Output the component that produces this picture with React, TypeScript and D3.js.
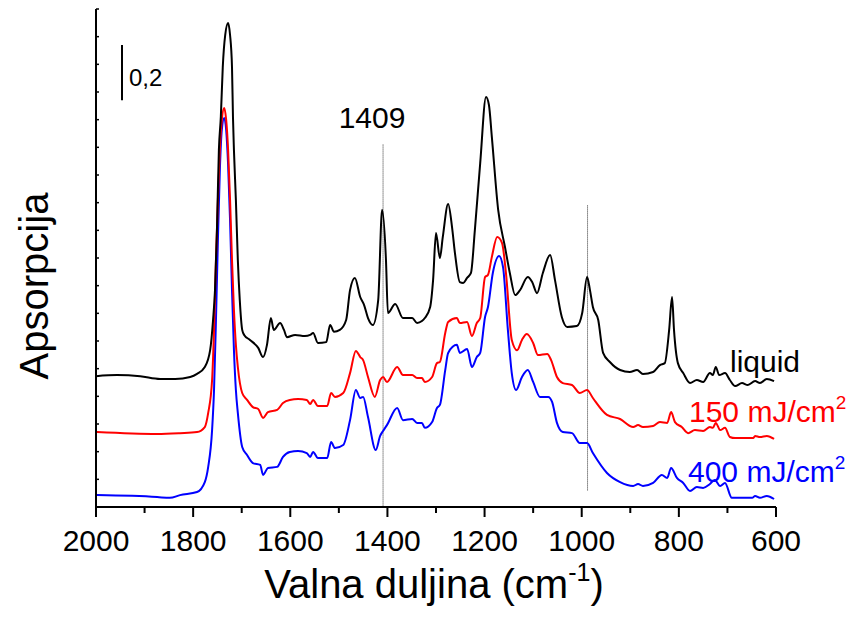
import React from "react";
import * as d3 from "d3";

// wavenumber (cm-1), absorbance
const liquidWn = [2000,1957,1909,1868,1837,1806,1792,1776,1765,1759,1755,1751,1747,1743,1739,1734,1728,1724,1720,1718,1716,1712,1708,1704,1699,1695,1683,1666,1656,1648,1640,1634,1621,1613,1607,1590,1570,1559,1553,1543,1526,1518,1510,1498,1485,1477,1467,1456,1448,1440,1430,1419,1411,1403,1399,1384,1368,1349,1339,1329,1323,1312,1306,1300,1292,1286,1275,1267,1261,1251,1244,1236,1228,1220,1209,1197,1191,1185,1172,1158,1148,1137,1127,1111,1102,1092,1080,1065,1055,1041,1030,1010,999,989,983,977,966,956,942,921,901,886,874,853,839,829,820,814,810,802,791,777,763,750,736,730,724,717,705,695,684,670,658,643,633,619,604];
const liquidA = [0.473,0.477,0.473,0.463,0.463,0.470,0.481,0.506,0.567,0.676,0.784,1.001,1.290,1.410,1.590,1.706,1.749,1.706,1.590,1.410,1.290,1.110,0.893,0.748,0.640,0.622,0.604,0.575,0.542,0.586,0.683,0.640,0.665,0.640,0.614,0.622,0.618,0.622,0.629,0.593,0.596,0.658,0.633,0.640,0.676,0.784,0.828,0.759,0.730,0.683,0.658,0.748,1.074,0.893,0.701,0.734,0.683,0.683,0.665,0.672,0.683,0.723,0.820,0.990,0.900,0.976,1.095,1.012,0.918,0.813,0.810,0.828,0.846,1.001,1.243,1.482,1.453,1.337,1.074,0.940,0.846,0.766,0.784,0.831,0.813,0.773,0.846,0.911,0.820,0.687,0.651,0.654,0.701,0.831,0.784,0.723,0.676,0.557,0.524,0.495,0.488,0.495,0.481,0.488,0.513,0.520,0.640,0.759,0.640,0.520,0.484,0.448,0.459,0.452,0.484,0.477,0.506,0.477,0.484,0.459,0.437,0.448,0.441,0.455,0.448,0.463,0.455];

const mj150Wn = [1998,1874,1827,1792,1776,1769,1761,1757,1753,1749,1745,1741,1736,1732,1728,1724,1720,1716,1712,1708,1699,1689,1677,1666,1656,1646,1627,1615,1601,1584,1566,1559,1553,1543,1524,1516,1508,1491,1477,1465,1456,1450,1440,1426,1415,1409,1401,1380,1368,1349,1339,1329,1323,1308,1298,1292,1281,1275,1257,1251,1236,1226,1216,1209,1199,1193,1185,1174,1164,1156,1144,1133,1123,1113,1100,1090,1071,1063,1051,1039,1020,1004,989,977,948,921,894,884,874,853,839,824,816,808,794,781,767,750,736,730,724,715,705,695,684,647,643,633,619,604];
const mj150A = [0.271,0.264,0.267,0.271,0.289,0.340,0.459,0.640,0.893,1.110,1.290,1.399,1.442,1.399,1.290,1.110,0.893,0.712,0.586,0.506,0.412,0.387,0.361,0.354,0.322,0.343,0.351,0.376,0.387,0.390,0.387,0.372,0.387,0.365,0.365,0.412,0.398,0.412,0.484,0.564,0.542,0.531,0.470,0.398,0.459,0.470,0.452,0.506,0.477,0.477,0.466,0.466,0.452,0.470,0.520,0.524,0.629,0.669,0.683,0.665,0.669,0.618,0.665,0.683,0.831,0.839,0.904,0.976,0.954,0.846,0.604,0.567,0.604,0.625,0.593,0.549,0.553,0.531,0.470,0.448,0.441,0.412,0.423,0.394,0.333,0.318,0.289,0.296,0.289,0.293,0.307,0.304,0.343,0.307,0.289,0.267,0.278,0.275,0.289,0.286,0.304,0.278,0.286,0.253,0.249,0.249,0.257,0.253,0.257,0.246];

const mj400Wn = [1998,1874,1848,1827,1792,1776,1769,1761,1757,1753,1749,1745,1741,1736,1732,1728,1724,1720,1716,1712,1708,1699,1689,1677,1662,1656,1646,1627,1615,1601,1584,1566,1559,1553,1543,1524,1516,1508,1491,1477,1465,1456,1450,1440,1424,1415,1409,1401,1380,1368,1349,1339,1329,1323,1308,1298,1292,1281,1275,1257,1251,1236,1226,1216,1209,1199,1193,1183,1170,1162,1152,1144,1135,1123,1111,1100,1086,1069,1061,1051,1039,1020,1004,989,977,948,921,894,884,874,853,835,824,816,804,791,777,763,750,736,726,715,705,691,674,649,643,633,619,604];
const mj400A = [0.043,0.036,0.033,0.043,0.054,0.090,0.145,0.278,0.423,0.676,0.965,1.218,1.363,1.406,1.363,1.236,1.037,0.784,0.567,0.423,0.340,0.217,0.188,0.159,0.152,0.116,0.141,0.145,0.181,0.199,0.202,0.195,0.181,0.199,0.177,0.177,0.235,0.213,0.224,0.314,0.423,0.394,0.398,0.325,0.206,0.257,0.275,0.296,0.358,0.314,0.318,0.304,0.304,0.286,0.307,0.358,0.369,0.495,0.557,0.586,0.557,0.571,0.506,0.542,0.557,0.687,0.723,0.846,0.907,0.867,0.640,0.484,0.423,0.470,0.495,0.452,0.398,0.398,0.380,0.304,0.271,0.267,0.231,0.231,0.195,0.123,0.090,0.076,0.083,0.076,0.087,0.116,0.105,0.141,0.105,0.087,0.058,0.072,0.069,0.083,0.098,0.076,0.087,0.033,0.033,0.033,0.040,0.033,0.040,0.029];

const xMajorTicks = [2000, 1800, 1600, 1400, 1200, 1000, 800, 600];
const xMinorTicks = [1900, 1700, 1500, 1300, 1100, 900, 700];
const yTicks = [0, 0.1, 0.2, 0.3, 0.4, 0.5, 0.6, 0.7, 0.8, 0.9, 1.0, 1.1, 1.2, 1.3, 1.4, 1.5, 1.6, 1.7, 1.8];
const markerLines = [1409, 988];
const markerTops = [1.31, 1.09];
const markerBottoms = [0, 0.06];

const FONT = "'Liberation Sans', Arial, sans-serif";

export default function App() {
  const x = d3.scaleLinear().domain([2000, 600]).range([96, 776]);
  const y = d3.scaleLinear().domain([0, 1.8]).range([507, 9]);
  const line = d3
    .line<[number, number]>()
    .x((d) => x(d[0]))
    .y((d) => y(d[1]))
    .curve(d3.curveMonotoneX);
  const mk = (wn: number[], a: number[]) => line(wn.map((w, i) => [w, a[i]] as [number, number])) || "";

  const series = [
    { wn: liquidWn, a: liquidA, color: "#000000" },
    { wn: mj150Wn, a: mj150A, color: "#ff0000" },
    { wn: mj400Wn, a: mj400A, color: "#0000ff" },
  ];

  return (
    <svg width={857} height={627} style={{ position: "absolute", left: 0, top: 0, background: "#fff" }} fontFamily={FONT}>
      <rect width={857} height={627} fill="#fff" />
      {markerLines.map((m, i) => (
        <line key={m} x1={x(m)} x2={x(m)} y1={y(markerTops[i])} y2={y(markerBottoms[i])} stroke="#333" strokeWidth={1} strokeDasharray="1,1" />
      ))}
      {series.slice().reverse().map((s) => (
        <path key={s.color} d={mk(s.wn, s.a)} fill="none" stroke={s.color} strokeWidth={2} strokeLinejoin="round" />
      ))}
      {/* axes */}
      <line x1={96} x2={96} y1={y(1.8)} y2={y(0)} stroke="#000" strokeWidth={2} />
      <line x1={95} x2={x(600)} y1={y(0)} y2={y(0)} stroke="#000" strokeWidth={2} />
      {yTicks.map((t) => (
        <line key={t} x1={96} x2={99} y1={y(t)} y2={y(t)} stroke="#000" strokeWidth={1.5} />
      ))}
      {xMajorTicks.map((t) => (
        <g key={t}>
          <line x1={x(t)} x2={x(t)} y1={y(0)} y2={y(0) + 10} stroke="#000" strokeWidth={2} />
          <text x={x(t)} y={551} fontSize={30} textAnchor="middle" fill="#000">{t}</text>
        </g>
      ))}
      {xMinorTicks.map((t) => (
        <line key={t} x1={x(t)} x2={x(t)} y1={y(0)} y2={y(0) + 6} stroke="#000" strokeWidth={2} />
      ))}
      {/* scale bar */}
      <line x1={122} x2={122} y1={y(1.67)} y2={y(1.47)} stroke="#000" strokeWidth={2} />
      <text x={129} y={86} fontSize={24} fill="#000">0,2</text>
      <text x={x(1409) - 11} y={128} fontSize={30} textAnchor="middle" fill="#000">1409</text>
      {/* series labels */}
      <text x={730} y={372} fontSize={30} fill="#000">liquid</text>
      <text x={689} y={422} fontSize={30} fill="#ff0000">150 mJ/cm<tspan dy={-13} fontSize={19}>2</tspan></text>
      <text x={688} y={482} fontSize={30} fill="#0000ff">400 mJ/cm<tspan dy={-13} fontSize={19}>2</tspan></text>
      {/* axis titles */}
      <text x={434} y={598} fontSize={40} textAnchor="middle" fill="#000">
        Valna duljina (cm<tspan dy={-17} fontSize={25}>-1</tspan><tspan dy={17}>)</tspan>
      </text>
      <text transform="translate(48,286) rotate(-90)" fontSize={40} textAnchor="middle" fill="#000">Apsorpcija</text>
    </svg>
  );
}
